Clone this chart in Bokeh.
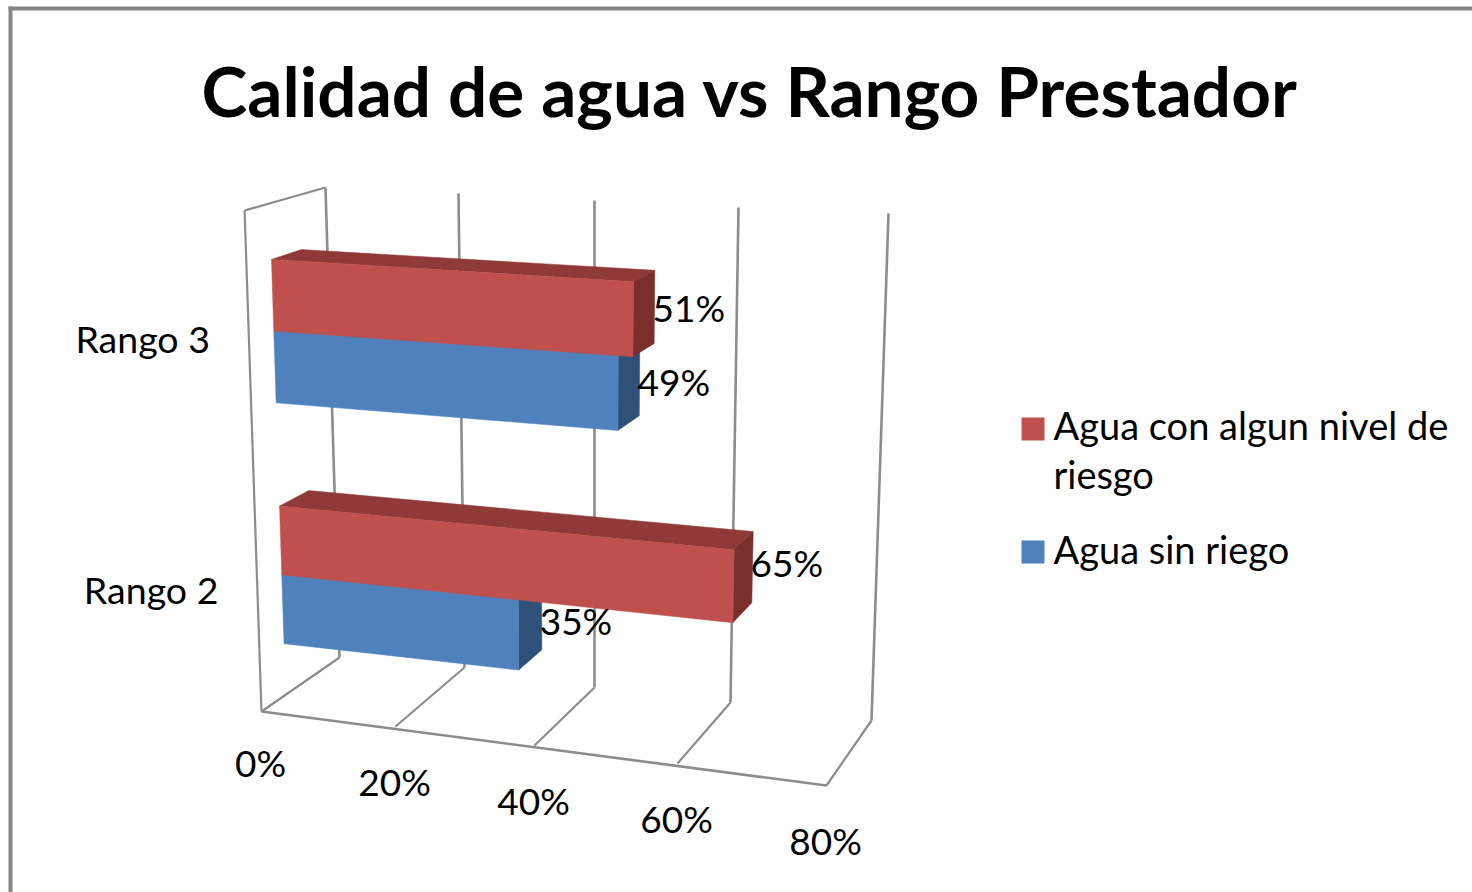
import numpy as np
from bokeh.plotting import figure
from bokeh.models import Range1d
from bokeh.core.properties import value
from bokeh.embed import file_html
from bokeh.resources import INLINE

title_text = "Calidad de agua vs Rango Prestador"
categories = ["Rango 2", "Rango 3"]
series_names = ["Agua sin riego", "Agua con algun nivel de riesgo"]
agua_sin_riego = [35, 49]
agua_con_riesgo = [65, 51]
tick_values = [0, 20, 40, 60, 80]
tick_labels = ["0%", "20%", "40%", "60%", "80%"]

# --- 3-D scale: where each axis tick lands on the box edges (the chart's own perspective scale)
FB = np.array([[261, 711], [395, 726], [534, 745], [677, 763], [826, 785]], float)  # front floor
BB = np.array([[339, 657], [464, 667], [594, 687], [730, 702], [871, 720]], float)  # back floor
BT = np.array([[325, 187], [458, 193], [594, 200], [738, 207], [888, 213]], float)  # back top
FT = FB + (BT - BB) * 1.066 + np.array([-2.0, 0.0])                                 # front top


def edge(E, v):
    return np.array([np.interp(v, tick_values, E[:, 0]), np.interp(v, tick_values, E[:, 1])])


def P(v, d, h):
    """Project value v, depth d (0 front..1 back), height h (0 floor..1 top)."""
    bottom = edge(FB, v) * (1 - d) + edge(BB, v) * d
    top = edge(FT, v) * (1 - d) + edge(BT, v) * d
    return bottom * (1 - h) + top * h


W, H = 1472, 892
p = figure(width=W, height=H, output_backend="svg", toolbar_location=None,
           x_range=Range1d(0, W), y_range=Range1d(H, 0),
           min_border=0, outline_line_color=None, background_fill_color="white")
p.axis.visible = False
p.grid.visible = False

FRAME = "#868686"
GRID = "#8c8c8c"
FONT = value("Lato")

# chart frame
p.quad(left=[8], right=[12], top=[6], bottom=[H], fill_color=FRAME, line_color=None)
p.quad(left=[8], right=[W], top=[6], bottom=[10], fill_color=FRAME, line_color=None)


def seg(a, b, width=2.2, color=GRID):
    p.line([a[0], b[0]], [a[1], b[1]], line_color=color, line_width=width)


# walls and floor
for i, v in enumerate(tick_values):
    seg(P(v, 1, 0), P(v, 1, 1), 2.6)
    seg(P(v, 0, 0), P(v, 1, 0), 2.2)
seg(P(0, 0, 0), P(80, 0, 0), 2.6)
seg(P(0, 0, 0), P(0, 0, 1), 2.2)
seg(P(0, 0, 1), P(0, 1, 1), 2.2)

# bars
D0, D1 = 0.31, 0.68
THICK = [0.140, 0.146]
CENTER_SHIFT = [-0.006, -0.01]
LABEL_DY_BLUE = [5, 2]
LABEL_DY_RED = [-5, 1]
STYLES = {
    "blue": ("#4F81BD", "#3A5F8C", "#2F5079"),
    "red": ("#C0504D", "#8F3A38", "#7A2F2D"),
}


def poly(points, color):
    p.patch([q[0] for q in points], [q[1] for q in points], fill_color=color, line_color=color,
            line_width=0.5)


def bar(val, h0, h1, style):
    front, top, side = STYLES[style]
    poly([P(0, D0, h1), P(0, D1, h1), P(val, D1, h1), P(val, D0, h1)], top)
    poly([P(val, D0, h0), P(val, D1, h0), P(val, D1, h1), P(val, D0, h1)], side)
    poly([P(0, D0, h0), P(val, D0, h0), P(val, D0, h1), P(0, D0, h1)], front)


labels_x, labels_y, labels_t = [], [], []
for i in range(len(categories)):
    c = (i + 0.5) / len(categories) + CENTER_SHIFT[i]
    t = THICK[i]
    bar(agua_sin_riego[i], c - t, c, "blue")
    bar(agua_con_riesgo[i], c, c + t, "red")
    for val, hc, dy in ((agua_sin_riego[i], c - t / 2, LABEL_DY_BLUE[i]),
                        (agua_con_riesgo[i], c + t / 2, LABEL_DY_RED[i])):
        q = P(val, D1, hc)
        labels_x.append(q[0] - 2)
        labels_y.append(q[1] + dy)
        labels_t.append(f"{val}%")

p.text(labels_x, labels_y, text=labels_t, text_font=FONT, text_font_size="37px",
       text_color="black", text_align="left", text_baseline="middle")

# value-axis tick labels
tx = [P(v, 0, 0)[0] - 1 for v in tick_values]
ty = [P(v, 0, 0)[1] + (51 if v == 0 else 55) for v in tick_values]
p.text(tx, ty, text=tick_labels, text_font=FONT, text_font_size="37px", text_color="black",
       text_align="center", text_baseline="middle")

# category labels
cx = [P(0, 0, (i + 0.5) / 2 - 0.01)[0] - 39 for i in range(len(categories))]
cy = [P(0, 0, (i + 0.5) / 2 - 0.01)[1] - 2 for i in range(len(categories))]
p.text(cx, cy, text=categories, text_font=FONT, text_font_size="37.5px", text_color="black",
       text_align="right", text_baseline="middle")

# title
p.text([749.5], [90], text=[title_text], text_font=FONT, text_font_style="bold",
       text_font_size="69.3px", text_color="black", text_align="center", text_baseline="middle")

# legend
p.quad(left=[1021], right=[1044], top=[417], bottom=[440], fill_color=STYLES["red"][0], line_color=None)
p.quad(left=[1021], right=[1044], top=[540], bottom=[563], fill_color=STYLES["blue"][0], line_color=None)
p.text([1053, 1053, 1053], [424, 473, 548],
       text=["Agua con algun nivel de", "riesgo", series_names[0]],
       text_font=FONT, text_font_size="38px", text_color="black",
       text_align="left", text_baseline="middle")

open("out.html", "w").write(file_html(p, INLINE))
